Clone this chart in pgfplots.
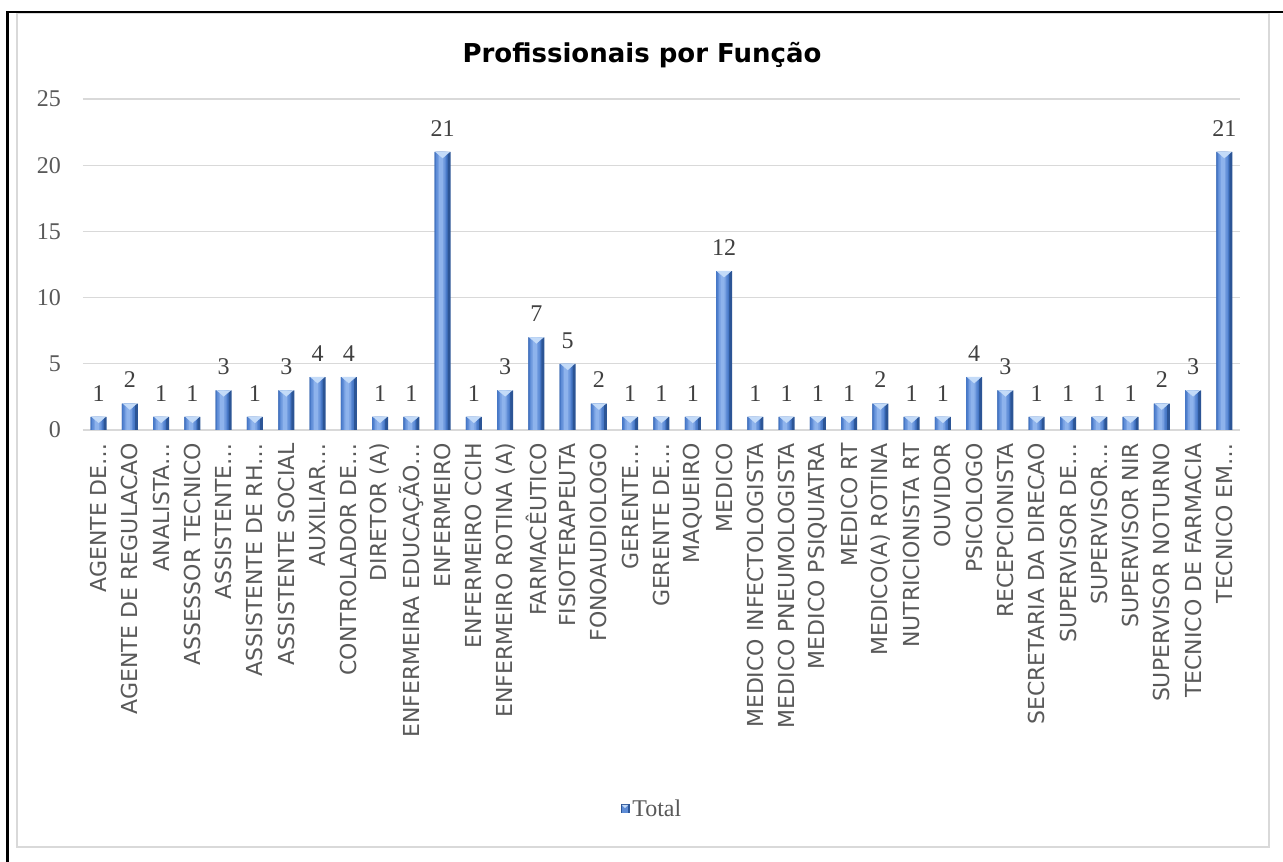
\documentclass[border=0pt]{standalone}
\usepackage{pgfplots}
\usepackage{pgfplotstable}
\pgfplotsset{compat=1.18}
\usepackage{fontspec}
\setmainfont{Liberation Serif}
\newfontfamily\dejavu{DejaVu Sans}
\definecolor{gridc}{HTML}{D9D9D9}
\definecolor{lab}{HTML}{595959}
\definecolor{dlab}{HTML}{404040}
\definecolor{b1}{HTML}{2C5596}
\definecolor{b2}{HTML}{4677C6}
\definecolor{b3}{HTML}{5E8CD6}
\definecolor{b4}{HTML}{77A0E2}
\definecolor{b5}{HTML}{8EB3EC}
\definecolor{tri}{HTML}{C4DBF8}
\pgfplotstableread{
x y
0 1
1 2
2 1
3 1
4 3
5 1
6 3
7 4
8 4
9 1
10 1
11 21
12 1
13 3
14 7
15 5
16 2
17 1
18 1
19 1
20 12
21 1
22 1
23 1
24 1
25 2
26 1
27 1
28 4
29 3
30 1
31 1
32 1
33 1
34 2
35 3
36 21
}\datatable
\begin{document}
\begin{tikzpicture}
\useasboundingbox (0,0) rectangle (1283pt,862pt);
\fill[white] (0,0) rectangle (1283pt,862pt);
\draw[gridc, line width=2pt] (17pt,15pt) rectangle (1269pt,849pt);
\draw[black, line width=2.5pt] (7.5pt,0pt) -- (7.5pt,850pt) -- (1283pt,850pt);
\begin{axis}[
  at={(83pt,432pt)}, anchor=south west,
  scale only axis, width=1157pt, height=331pt,
  xmin=-0.5, xmax=36.5, ymin=0, ymax=25,
  ytick={0,5,10,15,20,25},
  xtick={0,...,36},
  xticklabels={{AGENTE DE…},{AGENTE DE REGULACAO},{ANALISTA…},{ASSESSOR TECNICO},{ASSISTENTE…},{ASSISTENTE DE RH…},{ASSISTENTE SOCIAL},{AUXILIAR…},{CONTROLADOR DE…},{DIRETOR (A)},{ENFERMEIRA EDUCAÇÃO…},{ENFERMEIRO},{ENFERMEIRO CCIH},{ENFERMEIRO ROTINA (A)},{FARMACÊUTICO},{FISIOTERAPEUTA},{FONOAUDIOLOGO},{GERENTE…},{GERENTE DE…},{MAQUEIRO},{MEDICO},{MEDICO INFECTOLOGISTA},{MEDICO PNEUMOLOGISTA},{MEDICO PSIQUIATRA},{MEDICO RT},{MEDICO(A) ROTINA},{NUTRICIONISTA RT},{OUVIDOR},{PSICOLOGO},{RECEPCIONISTA},{SECRETARIA DA DIRECAO},{SUPERVISOR DE…},{SUPERVISOR…},{SUPERVISOR NIR},{SUPERVISOR NOTURNO},{TECNICO DE FARMACIA},{TECNICO EM…}},
  xticklabel style={rotate=90, anchor=east, inner sep=0pt, font=\dejavu\fontsize{22}{26}\selectfont, text=lab},
  xticklabel shift=13pt,
  yticklabel style={inner sep=0pt, xshift=-22pt, font=\fontsize{24}{28}\selectfont, text=lab},
  /pgf/number format/assume math mode=true,
  ymajorgrids, grid style={gridc, line width=1.3pt},
  axis x line*=bottom, axis y line*=left,
  y axis line style={draw=none},
  x axis line style={draw=gridc, line width=1.6pt, -},
  major tick length=0pt, tick style={draw=none},
  clip=false,
  legend style={at={(0.492,-1.145)}, anchor=center, draw=none, fill=none, font=\fontsize{24}{28}\selectfont, text=lab},
  legend image code/.code={\fill[b1] (0pt,-4.5pt) rectangle (9pt,4.5pt); \fill[b3] (0.5pt,-4pt) rectangle (7pt,4pt); \fill[tri] (0.5pt,4pt) -- (7pt,4pt) -- (3.75pt,1pt) -- cycle;},
]
\addplot[ybar, bar width=16pt, bar shift=0pt, draw=none, fill=b1,
  nodes near coords, every node near coord/.append style={font=\fontsize{24}{28}\selectfont, text=dlab, yshift=12pt}]
  table[x=x, y=y] {\datatable};
\addlegendentry{Total}
\addplot[ybar, forget plot, bar width=13pt, bar shift=-1.5pt, draw=none, fill=b2] table[x=x, y=y] {\datatable};
\addplot[ybar, forget plot, bar width=10pt, bar shift=-1.5pt, draw=none, fill=b3] table[x=x, y=y] {\datatable};
\addplot[ybar, forget plot, bar width=7pt, bar shift=-1.5pt, draw=none, fill=b4] table[x=x, y=y] {\datatable};
\addplot[ybar, forget plot, bar width=4pt, bar shift=-1.5pt, draw=none, fill=b5] table[x=x, y=y] {\datatable};
\addplot[only marks, forget plot, color=tri, mark=triangle*, mark size=8pt, mark options={yshift=-2pt, rotate=180, yscale=0.5, fill=tri, draw=tri}]
  table[x=x, y=y] {\datatable};
\end{axis}
\node[font=\dejavu\bfseries\fontsize{26}{30}\selectfont, text=black] at (642pt,807pt) {Profissionais por Função};
\end{tikzpicture}
\end{document}
